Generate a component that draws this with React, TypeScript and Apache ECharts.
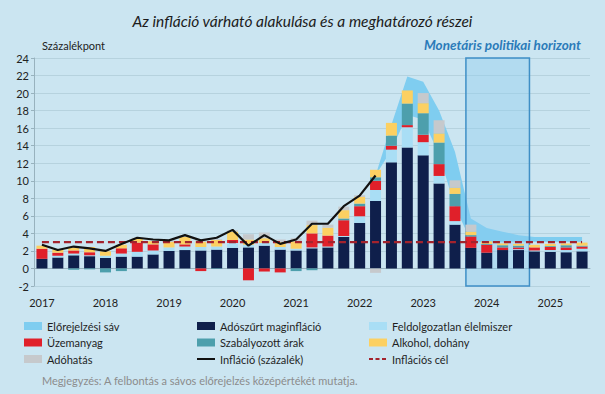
import React, { useEffect, useRef } from "react";
import * as echarts from "echarts";

const quarters: string[] = [
  "2017Q1", "2017Q2", "2017Q3", "2017Q4",
  "2018Q1", "2018Q2", "2018Q3", "2018Q4",
  "2019Q1", "2019Q2", "2019Q3", "2019Q4",
  "2020Q1", "2020Q2", "2020Q3", "2020Q4",
  "2021Q1", "2021Q2", "2021Q3", "2021Q4",
  "2022Q1", "2022Q2", "2022Q3", "2022Q4",
  "2023Q1", "2023Q2", "2023Q3", "2023Q4",
  "2024Q1", "2024Q2", "2024Q3", "2024Q4",
  "2025Q1", "2025Q2", "2025Q3",
];

// Adószűrt maginfláció
const coreInfl = [1.1, 1.25, 1.5, 1.4, 1.2, 1.35, 1.35, 1.6, 2.0, 2.1, 2.05, 2.15, 2.35, 2.4, 2.6, 2.15, 2.05, 2.3, 2.4, 3.6, 5.2, 7.7, 12.1, 13.8, 12.9, 9.7, 5.0, 2.35, 1.8, 2.1, 2.1, 1.95, 1.9, 1.85, 1.95];
// Feldolgozatlan élelmiszer
const unprocFood = [0, 0.2, 0.2, 0.1, 0.25, 0.35, 0.55, 0.45, 0.4, 0.4, 0.4, 0.35, 0.55, 0.3, 0.3, 0.3, 0.2, 0.1, 0.1, 0.1, 0.75, 1.25, 1.45, 2.3, 1.5, 0.85, 0.4, 0, 0, 0, 0.1, 0.1, 0.2, 0.25, 0.3];
// Üzemanyag
const fuel = [1.15, 0.35, 0.35, 0.35, 0, 0.6, 1.05, 0.7, 0, 0.25, -0.3, 0, 0.35, -1.35, -0.35, -0.45, 0, 1.6, 1.25, 1.8, 1.15, 1.05, 0.45, 0.25, 0.85, 1.35, 1.7, 1.3, 0.9, 0.3, 0.2, 0.35, 0.35, 0.3, 0.25];
// Szabályozott árak
const regulated = [0, 0, -0.15, -0.1, -0.45, -0.3, 0, 0, 0, 0, 0, -0.05, 0, 0, 0, 0, -0.3, -0.2, 0, 0.2, 0.3, 0.4, 1.15, 2.45, 2.45, 2.45, 1.4, 0.15, 0.1, 0.25, 0.2, 0, 0.1, 0.25, 0.1];
// Alkohol, dohány
const alcohol = [0.35, 0.35, 0.35, 0.6, 0.5, 0.4, 0.45, 0.35, 0.65, 0.85, 0.6, 0.75, 0.95, 0.6, 0.55, 0.55, 0.85, 0.95, 0.9, 0.95, 0.75, 0.85, 1.45, 1.5, 1.15, 1.05, 0.7, 0.4, 0.3, 0.2, 0.2, 0.3, 0.25, 0.2, 0.35];
// Adóhatás
const taxEffect = [0, 0, 0, 0, 0, 0, 0.1, 0, 0.15, 0, 0.3, 0.1, 0.15, 0.6, 0.65, 0.3, 0.35, 0.5, 0.35, 0.4, 0.2, -0.5, 0, 0, 1.15, 1.5, 0.85, 0.8, 0, 0, 0, 0, 0, 0, 0];
// Infláció (százalék) – tény
const inflation = [2.7, 2.1, 2.5, 2.3, 2.0, 2.8, 3.5, 3.3, 3.2, 3.8, 3.2, 3.5, 4.4, 2.6, 3.8, 2.8, 3.3, 5.1, 5.1, 7.1, 8.3, 10.6];
// Inflációs cél
const target = quarters.map(() => 3);
// Előrejelzési sáv (alsó / felső)
const bandLow = [null, null, null, null, null, null, null, null, null, null, null, null, null, null, null, null, null, null, null, null, null, 10.6, 13.5, 17.5, 17.0, 13.0, 7.0, 3.2, 2.9, 3.05, 3.05, 3.05, 3.05, 3.05, 3.05];
const bandHigh = [null, null, null, null, null, null, null, null, null, null, null, null, null, null, null, null, null, null, null, null, null, 10.6, 16.4, 21.9, 21.3, 18.0, 13.3, 5.7, 4.6, 4.2, 3.8, 3.6, 3.6, 3.6, 3.6];
const horizonStart = "2023Q4";
const horizonEnd = "2024Q3";

const FONT = "Lato, 'Noto Sans', sans-serif";

export default function App() {
  const ref = useRef<HTMLDivElement>(null);
  useEffect(() => {
    if (!ref.current) return;
    const chart = echarts.init(ref.current, undefined, { renderer: "svg" });
    const bandDiff = bandHigh.map((h, i) => (h == null || bandLow[i] == null ? null : +(h - (bandLow[i] as number)).toFixed(2)));
    const barSeries = (name: string, data: number[], color: string) => ({
      name,
      type: "bar",
      stack: "bars",
      barWidth: 11,
      data,
      itemStyle: { color },
      z: 3,
    });
    const legendBase = {
      orient: "vertical",
      top: 319,
      itemWidth: 18,
      itemHeight: 8,
      itemGap: 2.5,
      padding: 0,
      textStyle: { fontSize: 11, color: "#1f1f1f", fontFamily: FONT, lineHeight: 14 },
    };
    const rectItem = (name: string) => ({ name, icon: "rect" });
    const lineItem = (name: string, dash?: number[]) => ({
      name,
      itemStyle: { opacity: 0 },
      lineStyle: dash ? { type: dash, width: 2 } : { width: 2 },
    });
    const texts: any[] = [
      {
        id: "ylab", type: "text", left: 42, top: 40,
        style: { text: "Százalékpont", fontSize: 11, fill: "#222", fontFamily: FONT },
      },
      {
        id: "horizon", type: "text", right: 24, top: 38,
        style: { text: "Monetáris politikai horizont", fontSize: 13.5, fontWeight: "bold", fontStyle: "italic", fill: "#2b7bb9", fontFamily: FONT },
      },
      {
        id: "note", type: "text", left: 42, top: 375,
        style: { text: "Megjegyzés: A felbontás a sávos előrejelzés középértékét mutatja.", fontSize: 11, fill: "#8c8c8c", fontFamily: FONT },
      },
    ];
    chart.setOption({
      animation: false,
      backgroundColor: "#cbe5f1",
      textStyle: { fontFamily: FONT },
      title: {
        text: "Az infláció várható alakulása és a meghatározó részei",
        left: "center",
        top: 8,
        textStyle: { fontStyle: "italic", fontWeight: "normal", fontSize: 15.5, color: "#1c1c1c", fontFamily: FONT },
      },
      grid: { left: 34, right: 15, top: 58, bottom: 108 },
      legend: [
        { ...legendBase, left: 24, data: [rectItem("Előrejelzési sáv"), rectItem("Üzemanyag"), rectItem("Adóhatás")] },
        { ...legendBase, left: 196, data: [rectItem("Adószűrt maginfláció"), rectItem("Szabályozott árak"), lineItem("Infláció (százalék)")] },
        { ...legendBase, left: 368, data: [rectItem("Feldolgozatlan élelmiszer"), rectItem("Alkohol, dohány"), lineItem("Inflációs cél", [4, 2.5])] },
      ],
      xAxis: [
        {
          type: "category",
          data: quarters,
          axisLine: { onZero: true, lineStyle: { color: "#98b2be", width: 1 } },
          axisTick: { interval: 3, length: 4, lineStyle: { color: "#98b2be" } },
          axisLabel: { show: false },
        },
        {
          type: "category",
          data: quarters,
          position: "bottom",
          axisLine: { show: false, onZero: false },
          axisTick: { show: false },
          axisLabel: {
            interval: 3,
            margin: 11,
            fontSize: 11,
            color: "#222",
            fontFamily: FONT,
            formatter: (v: string) => v.slice(0, 4),
          },
        },
      ],
      yAxis: {
        type: "value",
        min: -2,
        max: 24,
        interval: 2,
        axisLine: { show: true, lineStyle: { color: "#98b2be" } },
        axisTick: { show: true, length: 3, lineStyle: { color: "#98b2be" } },
        splitLine: { lineStyle: { color: "#b6d2de", width: 1 } },
        axisLabel: { fontSize: 11, color: "#222", margin: 5, fontFamily: FONT },
      },
      graphic: texts,
      series: [
        {
          type: "line",
          stack: "band",
          data: bandLow,
          symbol: "none",
          lineStyle: { opacity: 0 },
          silent: true,
          z: 1,
        },
        {
          name: "Előrejelzési sáv",
          type: "line",
          stack: "band",
          data: bandDiff,
          symbol: "none",
          lineStyle: { opacity: 0, width: 0 },
          itemStyle: { color: "#7fcdf0" },
          areaStyle: { color: "#7fcdf0", opacity: 1 },
          z: 1,
        },
        barSeries("Adószűrt maginfláció", coreInfl, "#0f1f4b"),
        barSeries("Feldolgozatlan élelmiszer", unprocFood, "#a9def5"),
        barSeries("Üzemanyag", fuel, "#e0202a"),
        barSeries("Szabályozott árak", regulated, "#4d9fac"),
        barSeries("Alkohol, dohány", alcohol, "#fcd062"),
        barSeries("Adóhatás", taxEffect, "#c6c9cc"),
        {
          name: "Inflációs cél",
          type: "line",
          data: target,
          symbol: "none",
          itemStyle: { color: "#a3232d" },
          lineStyle: { color: "#a3232d", width: 2.2, type: [7, 4] },
          z: 4,
        },
        {
          name: "Infláció (százalék)",
          type: "line",
          data: inflation,
          symbol: "none",
          itemStyle: { color: "#111" },
          lineStyle: { color: "#111", width: 2.2 },
          z: 5,
        },
      ],
    });
    const i0 = quarters.indexOf(horizonStart);
    const i1 = quarters.indexOf(horizonEnd);
    const c0 = chart.convertToPixel({ xAxisIndex: 0 }, i0) as number;
    const c1 = chart.convertToPixel({ xAxisIndex: 0 }, i1) as number;
    const step = (chart.convertToPixel({ xAxisIndex: 0 }, 1) as number) - (chart.convertToPixel({ xAxisIndex: 0 }, 0) as number);
    const yTop = chart.convertToPixel({ yAxisIndex: 0 }, 24) as number;
    const yBot = chart.convertToPixel({ yAxisIndex: 0 }, -2) as number;
    chart.setOption({
      graphic: [
        ...texts,
        {
          id: "box",
          type: "rect",
          z: 2,
          shape: { x: c0 - step / 2 + 3, y: yTop, width: c1 - c0 + step, height: yBot - yTop },
          style: { fill: "rgba(140, 205, 240, 0.4)", stroke: "#3f8fc6", lineWidth: 1.5 },
          silent: true,
        },
      ],
    });
    return () => chart.dispose();
  }, []);
  return (
    <div
      ref={ref}
      style={{ position: "absolute", left: 0, top: 0, width: 605, height: 394 }}
    />
  );
}
